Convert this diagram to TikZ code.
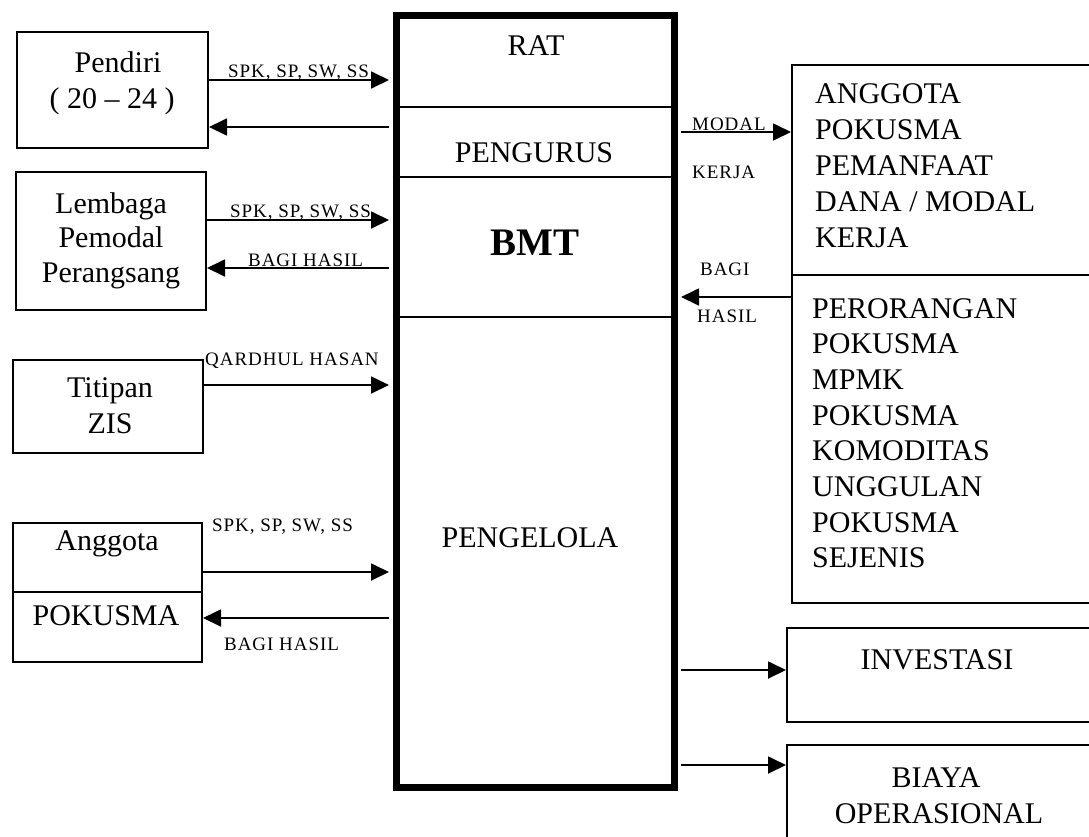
\documentclass[tikz,border=0pt]{standalone}
\usepackage{fontspec}
\setmainfont{Liberation Serif}
\newfontfamily\labfont[LetterSpace=5]{Liberation Serif}
\usetikzlibrary{arrows.meta}
\begin{document}
\begin{tikzpicture}[x=1pt,y=-1pt,
  box/.style={draw, line width=2pt, inner sep=0pt},
  big/.style={font=\fontsize{30}{36}\selectfont, inner sep=0pt},
  lab/.style={font=\labfont\fontsize{19}{22}\selectfont, inner sep=0pt, anchor=base west},
  arr/.style={line width=1.8pt, -{Triangle[length=18pt,width=17pt]}},
  divline/.style={line width=2pt}
]
\useasboundingbox (0,0) rectangle (1089,836);
\clip (0,0) rectangle (1089,836);

% left boxes
\node[box, minimum width=191, minimum height=116] (pendiri) at (112.5,90) {};
\node[big, anchor=base] (tPendiri) at (118,72) {Pendiri};
\node[big, anchor=base] (tPendiri2) at (112,108) {( 20 – 24 )};

\node[box, minimum width=190, minimum height=138] (lembaga) at (111,241) {};
\node[big, anchor=base] (tLem1) at (111,213) {Lembaga};
\node[big, anchor=base] (tLem2) at (111,247) {Pemodal};
\node[big, anchor=base] (tLem3) at (111,282) {Perangsang};

\node[box, minimum width=190, minimum height=93] (titipan) at (108,406.5) {};
\node[big, anchor=base] (tTit1) at (110,397) {Titipan};
\node[big, anchor=base] (tTit2) at (110,433) {ZIS};

\node[box, minimum width=189, minimum height=139] (anggota) at (107.5,592.5) {};
\coordinate (dvA) at (0,592);
\draw[divline] (anggota.west |- dvA) -- (anggota.east |- dvA);
\node[big, anchor=base] (tAng1) at (107,550) {Anggota};
\node[big, anchor=base] (tAng2) at (106,625) {POKUSMA};

% centre box
\node[draw, line width=7pt, minimum width=278, minimum height=772, inner sep=0pt] (bmt) at (535,401) {};
\coordinate (d1) at (0,107);
\coordinate (d2) at (0,177);
\coordinate (d3) at (0,317);
\draw[divline] (bmt.west |- d1) -- (bmt.east |- d1);
\draw[divline] (bmt.west |- d2) -- (bmt.east |- d2);
\draw[divline] (bmt.west |- d3) -- (bmt.east |- d3);
\node[big, anchor=base] (tRat) at (536,55) {RAT};
\node[big, anchor=base] (tPeng) at (534,162) {PENGURUS};
\node[font=\fontsize{39}{44}\selectfont\bfseries, inner sep=0pt, anchor=base] (tBmt) at (535,255) {BMT};
\node[big, anchor=base] (tPengel) at (530,547) {PENGELOLA};

% right boxes (open to the right, clipped by the page)
\node[box, minimum width=308, minimum height=210] (angR) at (946,170) {};
\node[box, minimum width=308, minimum height=328] (perR) at (946,439) {};
\node[box, minimum width=313, minimum height=94] (inv) at (943.5,675) {};
\node[box, minimum width=313, minimum height=154] (biaya) at (943.5,822) {};

\foreach \t [count=\i] in {ANGGOTA, POKUSMA, PEMANFAAT, DANA / MODAL, KERJA}
  \node[big, anchor=base west] (ra\i) at (815,{103+(\i-1)*36}) {\t};
\foreach \t [count=\i] in {PERORANGAN, POKUSMA, MPMK, POKUSMA, KOMODITAS, UNGGULAN, POKUSMA, SEJENIS}
  \node[big, anchor=base west] (rb\i) at (812,{318+(\i-1)*35.7}) {\t};

\node[big, anchor=base] (tInv) at (937,669) {INVESTASI};
\node[big, anchor=base] (tBia1) at (936,787) {BIAYA};
\node[big, anchor=base] (tBia2) at (939,823) {OPERASIONAL};

% arrow levels
\coordinate (y1) at (0,80);
\coordinate (y2) at (0,127);
\coordinate (y3) at (0,220);
\coordinate (y4) at (0,268);
\coordinate (y5) at (0,385);
\coordinate (y6) at (0,572);
\coordinate (y7) at (0,618);
\coordinate (y8) at (0,132);
\coordinate (y9) at (0,297);
\coordinate (y10) at (0,670);
\coordinate (y11) at (0,765);

\draw[arr, shorten >=3.5pt] (pendiri.east |- y1) -- (bmt.west |- y1);
\draw[arr, shorten <=3.5pt] (bmt.west |- y2) -- (pendiri.east |- y2);
\draw[arr, shorten >=3.5pt] (lembaga.east |- y3) -- (bmt.west |- y3);
\draw[arr, shorten <=3.5pt] (bmt.west |- y4) -- (lembaga.east |- y4);
\draw[arr, shorten >=3.5pt] (titipan.east |- y5) -- (bmt.west |- y5);
\draw[arr, shorten >=3.5pt] (anggota.east |- y6) -- (bmt.west |- y6);
\draw[arr, shorten <=3.5pt] (bmt.west |- y7) -- (anggota.east |- y7);
\draw[arr, shorten <=3.5pt] (bmt.east |- y8) -- (angR.west |- y8);
\draw[arr, shorten >=3.5pt] (perR.west |- y9) -- (bmt.east |- y9);
\draw[arr, shorten <=3.5pt] (bmt.east |- y10) -- (inv.west |- y10);
\draw[arr, shorten <=3.5pt] (bmt.east |- y11) -- (biaya.west |- y11);

% labels
\node[lab] (l1) at (228,77) {SPK, SP, SW, SS};
\node[lab] (l2) at (230,217) {SPK, SP, SW, SS};
\node[lab] (l3) at (248,266) {BAGI HASIL};
\node[lab] (l4) at (205,365) {QARDHUL HASAN};
\node[lab] (l5) at (212,531) {SPK, SP, SW, SS};
\node[lab] (l6) at (224,650) {BAGI HASIL};
\node[lab] (l7) at (692,130) {MODAL};
\node[lab] (l8) at (692,178) {KERJA};
\node[lab] (l9) at (700,275) {BAGI};
\node[lab] (l10) at (697,322) {HASIL};
\end{tikzpicture}
\end{document}
